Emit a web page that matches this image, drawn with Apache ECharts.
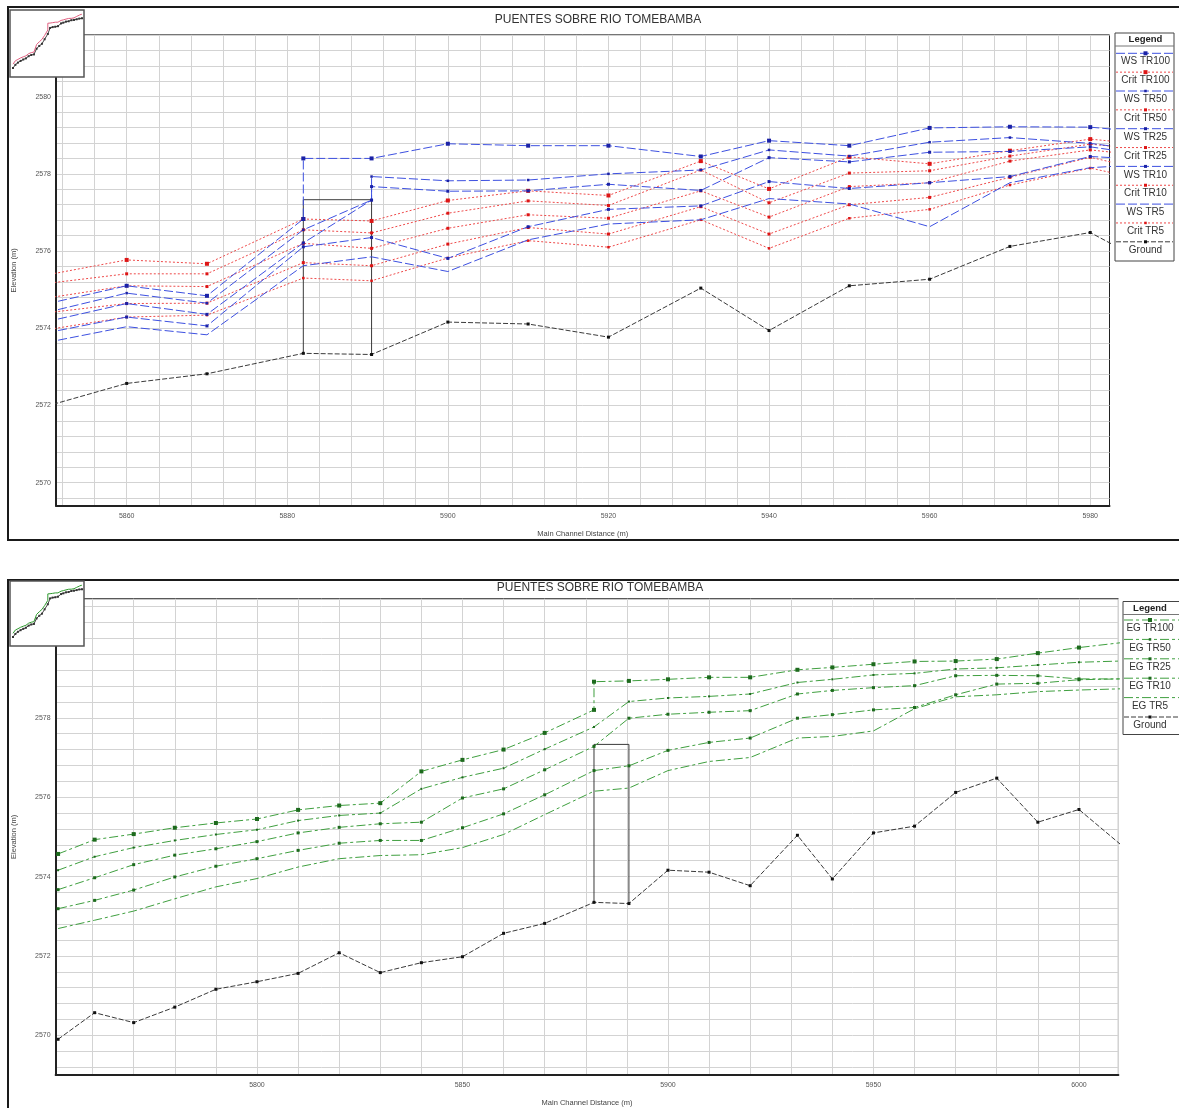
<!DOCTYPE html>
<html>
<head>
<meta charset="utf-8">
<script src="https://cdn.jsdelivr.net/npm/echarts@6/dist/echarts.min.js"></script>
<style>html,body{margin:0;padding:0;background:#fff}#chart{width:1179px;height:1108px}</style>
</head>
<body>
<div id="chart"></div>
<script>
// ---------------- DATA ----------------
const titleText = 'PUENTES SOBRE RIO TOMEBAMBA';
const xAxisName = 'Main Channel Distance (m)';
const yAxisName = 'Elevation (m)';

const topStationLabels = [5860, 5880, 5900, 5920, 5940, 5960, 5980];
const topElevLabels = [2570, 2572, 2574, 2576, 2578, 2580];
const bottomStationLabels = [5800, 5850, 5900, 5950, 6000];
const bottomElevLabels = [2570, 2572, 2574, 2576, 2578];

const ground = [[5751.6,2569.90],[5760.5,2570.57],[5770,2570.32],[5780,2570.71],[5790,2571.16],[5800,2571.35],[5810,2571.56],[5820,2572.08],[5830,2571.58],[5840,2571.83],[5850,2571.98],[5860,2572.57],[5870,2572.82],[5882,2573.35],[5890.5,2573.32],[5900,2574.16],[5910,2574.11],[5920,2573.77],[5931.5,2575.04],[5940,2573.94],[5950,2575.10],[5960,2575.27],[5970,2576.12],[5980,2576.48],[5990,2575.37],[6000,2575.69],[6010,2574.82]];

const bridgeOutline = [[5882,2573.35],[5882,2577.33],[5890.5,2577.33],[5890.5,2573.32]];

const wsTR100 = [[5850,2574.63],[5860,2575.10],[5870,2574.84],[5882,2576.83],[5882,2578.40],[5890.5,2578.40],[5900,2578.78],[5910,2578.73],[5920,2578.73],[5931.5,2578.45],[5940,2578.86],[5950,2578.73],[5960,2579.19],[5970,2579.22],[5980,2579.21],[5990,2579.02]];
const wsTR50 = [[5850,2574.41],[5860,2574.91],[5870,2574.65],[5882,2576.55],[5890.5,2577.32],[5890.5,2577.93],[5900,2577.82],[5910,2577.84],[5920,2578.00],[5931.5,2578.10],[5940,2578.62],[5950,2578.46],[5960,2578.82],[5970,2578.94],[5980,2578.79],[5990,2578.52]];
const wsTR25 = [[5850,2574.17],[5860,2574.64],[5870,2574.36],[5882,2576.21],[5890.5,2577.32],[5890.5,2577.67],[5900,2577.55],[5910,2577.56],[5920,2577.73],[5931.5,2577.57],[5940,2578.42],[5950,2578.31],[5960,2578.56],[5970,2578.58],[5980,2578.70],[5990,2578.40]];
const wsTR10 = [[5850,2573.88],[5860,2574.29],[5870,2574.06],[5882,2576.11],[5890.5,2576.35],[5900,2575.81],[5910,2576.63],[5920,2577.08],[5931.5,2577.17],[5940,2577.80],[5950,2577.62],[5960,2577.77],[5970,2577.93],[5980,2578.45],[5990,2578.34]];
const wsTR5 = [[5850,2573.63],[5860,2574.04],[5870,2573.83],[5882,2575.62],[5890.5,2575.85],[5900,2575.47],[5910,2576.29],[5920,2576.70],[5931.5,2576.81],[5940,2577.36],[5950,2577.22],[5960,2576.63],[5970,2577.77],[5980,2578.16],[5990,2578.28]];

const critTR100 = [[5850,2575.38],[5860,2575.77],[5870,2575.67],[5882,2576.83],[5890.5,2576.78],[5900,2577.31],[5910,2577.56],[5920,2577.44],[5931.5,2578.33],[5940,2577.61],[5950,2578.44],[5960,2578.26],[5970,2578.60],[5980,2578.90],[5990,2578.70]];
const critTR50 = [[5850,2575.16],[5860,2575.41],[5870,2575.41],[5882,2576.55],[5890.5,2576.47],[5900,2576.98],[5910,2577.30],[5920,2577.18],[5931.5,2578.10],[5940,2577.25],[5950,2578.02],[5960,2578.08],[5970,2578.46],[5980,2578.77],[5990,2578.57]];
const critTR25 = [[5850,2574.78],[5860,2575.10],[5870,2575.08],[5882,2576.20],[5890.5,2576.07],[5900,2576.59],[5910,2576.94],[5920,2576.85],[5931.5,2577.56],[5940,2576.88],[5950,2577.67],[5960,2577.77],[5970,2578.33],[5980,2578.62],[5990,2578.40]];
const critTR10 = [[5850,2574.40],[5860,2574.64],[5870,2574.65],[5882,2575.70],[5890.5,2575.62],[5900,2576.18],[5910,2576.61],[5920,2576.44],[5931.5,2577.15],[5940,2576.44],[5950,2577.20],[5960,2577.39],[5970,2577.91],[5980,2578.43],[5990,2577.95]];
const critTR5 = [[5850,2573.96],[5860,2574.29],[5870,2574.34],[5882,2575.30],[5890.5,2575.23],[5900,2575.82],[5910,2576.27],[5920,2576.10],[5931.5,2576.81],[5940,2576.07],[5950,2576.85],[5960,2577.08],[5970,2577.71],[5980,2578.15],[5990,2577.70]];

const egTR100 = [[5751.6,2574.57],[5760.5,2574.93],[5770,2575.07],[5780,2575.23],[5790,2575.35],[5800,2575.45],[5810,2575.68],[5820,2575.79],[5830,2575.85],[5840,2576.65],[5850,2576.94],[5860,2577.20],[5870,2577.62],[5882,2578.20],[5882,2578.91],[5890.5,2578.93],[5900,2578.97],[5910,2579.02],[5920,2579.02],[5931.5,2579.21],[5940,2579.27],[5950,2579.35],[5960,2579.42],[5970,2579.43],[5980,2579.48],[5990,2579.63],[6000,2579.77],[6010,2579.89]];
const egTR50 = [[5751.6,2574.16],[5760.5,2574.50],[5770,2574.73],[5780,2574.91],[5790,2575.06],[5800,2575.18],[5810,2575.41],[5820,2575.54],[5830,2575.60],[5840,2576.21],[5850,2576.50],[5860,2576.73],[5870,2577.21],[5882,2577.77],[5890.5,2578.41],[5900,2578.50],[5910,2578.54],[5920,2578.60],[5931.5,2578.89],[5940,2578.97],[5950,2579.08],[5960,2579.12],[5970,2579.23],[5980,2579.26],[5990,2579.33],[6000,2579.40],[6010,2579.43]];
const egTR25 = [[5751.6,2573.67],[5760.5,2573.97],[5770,2574.30],[5780,2574.54],[5790,2574.70],[5800,2574.88],[5810,2575.10],[5820,2575.24],[5830,2575.33],[5840,2575.37],[5850,2575.98],[5860,2576.21],[5870,2576.69],[5882,2577.28],[5890.5,2577.99],[5900,2578.09],[5910,2578.14],[5920,2578.18],[5931.5,2578.60],[5940,2578.69],[5950,2578.76],[5960,2578.81],[5970,2579.06],[5980,2579.07],[5990,2579.06],[6000,2578.98],[6010,2578.98]];
const egTR10 = [[5751.6,2573.19],[5760.5,2573.40],[5770,2573.66],[5780,2573.99],[5790,2574.26],[5800,2574.45],[5810,2574.66],[5820,2574.84],[5830,2574.91],[5840,2574.91],[5850,2575.23],[5860,2575.58],[5870,2576.06],[5882,2576.67],[5890.5,2576.79],[5900,2577.18],[5910,2577.38],[5920,2577.49],[5931.5,2577.99],[5940,2578.08],[5950,2578.20],[5960,2578.26],[5970,2578.58],[5980,2578.85],[5990,2578.87],[6000,2578.96],[6010,2578.98]];
const egTR5 = [[5751.6,2572.69],[5760.5,2572.90],[5770,2573.13],[5780,2573.44],[5790,2573.74],[5800,2573.95],[5810,2574.24],[5820,2574.45],[5830,2574.53],[5840,2574.55],[5850,2574.73],[5860,2575.06],[5870,2575.56],[5882,2576.15],[5890.5,2576.23],[5900,2576.67],[5910,2576.90],[5920,2577.00],[5931.5,2577.49],[5940,2577.53],[5950,2577.67],[5960,2578.23],[5970,2578.53],[5980,2578.58],[5990,2578.66],[6000,2578.70],[6010,2578.73]];

// ---------------- STYLES ----------------
const FONT = 'Liberation Sans, Arial, sans-serif';
const GRID = '#d3d3d3';
const WS = {color:'#3d50e0', mark:'#1b22a6', dash:[9,3]};
const CRIT = {color:'#ee4a4a', mark:'#dd1515', dash:[2,2]};
const GROUND = {color:'#3a3a3a', mark:'#111111', dash:[5,2]};
const EG = {color:'#3f9f3f', mark:'#1d6a1d', dash:[9,3,3,3]};

const topDefs = [
  {name:'WS TR100', data:wsTR100, st:WS, size:4, z:6},
  {name:'Crit TR100', data:critTR100, st:CRIT, size:4, z:5},
  {name:'WS TR50', data:wsTR50, st:WS, size:2.5, z:6},
  {name:'Crit TR50', data:critTR50, st:CRIT, size:3, z:5},
  {name:'WS TR25', data:wsTR25, st:WS, size:3, z:6},
  {name:'Crit TR25', data:critTR25, st:CRIT, size:3, z:5},
  {name:'WS TR10', data:wsTR10, st:WS, size:3, z:6},
  {name:'Crit TR10', data:critTR10, st:CRIT, size:3, z:5},
  {name:'WS TR5', data:wsTR5, st:WS, size:0, z:6},
  {name:'Crit TR5', data:critTR5, st:CRIT, size:2.5, z:5},
  {name:'Ground', data:ground, st:GROUND, size:3, z:4}
];
const bottomDefs = [
  {name:'EG TR100', data:egTR100, st:EG, size:4, z:6},
  {name:'EG TR50', data:egTR50, st:EG, size:2, z:6},
  {name:'EG TR25', data:egTR25, st:EG, size:3, z:6},
  {name:'EG TR10', data:egTR10, st:EG, size:3, z:6},
  {name:'EG TR5', data:egTR5, st:EG, size:0, z:6},
  {name:'Ground', data:ground, st:GROUND, size:3, z:4}
];

function lineSeries(d, idx) {
  return {
    name: d.name, type: 'line', xAxisIndex: idx, yAxisIndex: idx, data: d.data,
    symbol: d.size ? 'rect' : 'none', symbolSize: d.size || 0, showSymbol: !!d.size,
    lineStyle: {color: d.st.color, width: 1, type: d.st.dash},
    itemStyle: {color: d.st.mark}, z: d.z, clip: true, animation: false,
    emphasis: {disabled: true}, silent: true
  };
}
function bridgeSeries(idx) {
  return {name:'Bridge', type:'line', xAxisIndex:idx, yAxisIndex:idx, data:bridgeOutline,
    symbol:'none', lineStyle:{color:'#3a3a3a', width:1}, z:3, animation:false, silent:true};
}

function fmt(labels) {
  return function (v) {
    const r = Math.round(v * 10) / 10;
    return labels.indexOf(r) >= 0 ? String(r) : '';
  };
}
const axisNameStyle = {fontSize: 7.5, color: '#444', fontFamily: FONT};
function xAxisCfg(gridIndex, min, max, interval, colors, labels) {
  return {
    type:'value', gridIndex, min, max, interval,
    axisLine:{show:true, onZero:false, lineStyle:{color:'#222', width:2}},
    axisTick:{show:false},
    splitLine:{show:true, lineStyle:{color:colors, width:1}},
    axisLabel:{color:'#555', fontSize:7, fontFamily:FONT, margin:7, formatter:fmt(labels)},
    name:xAxisName, nameLocation:'middle', nameGap:24, nameTextStyle:axisNameStyle
  };
}
function yAxisCfg(gridIndex, min, max, interval, colors, labels) {
  return {
    type:'value', gridIndex, min, max, interval,
    axisLine:{show:true, onZero:false, lineStyle:{color:'#222', width:2}},
    axisTick:{show:false},
    splitLine:{show:true, lineStyle:{color:colors, width:1}},
    axisLabel:{color:'#555', fontSize:7, fontFamily:FONT, margin:5, formatter:fmt(labels)},
    name:yAxisName, nameLocation:'middle', nameGap:38, nameRotate:90, nameTextStyle:axisNameStyle
  };
}
const T = 'transparent';
// top x: ticks every 0.8 m from 5851.2 -> grid every 4 m (index 1 mod 5)
const topXColors = [T, GRID, T, T, T];
// bottom x: ticks every 1 m from 5751 -> grid every 10 m (index 9 mod 10)
const bottomXColors = [T, T, T, T, T, T, T, T, T, GRID];
// y: ticks every 0.2 m, grid every 0.4 m
const yColors = [T, GRID];

// ---------------- LEGEND (drawn) ----------------
function legendGraphics(defs, box, firstLineY, step, cx) {
  const g = [];
  g.push({type:'rect', z:50, shape:{x:box.x, y:box.y, width:box.w, height:box.h},
    style:{fill:'#fff', stroke:'#444', lineWidth:1}});
  g.push({type:'text', z:51, x:cx, y:box.y + 6.5, style:{text:'Legend', align:'center', verticalAlign:'middle',
    font:'bold 9.5px ' + FONT, fill:'#222'}});
  g.push({type:'line', z:51, shape:{x1:box.x, y1:box.y + 13, x2:box.x + box.w, y2:box.y + 13},
    style:{stroke:'#777', lineWidth:1}});
  defs.forEach(function (d, i) {
    const ly = firstLineY + step * i;
    g.push({type:'line', z:51, shape:{x1:box.x + 1, y1:ly, x2:box.x + box.w - 1, y2:ly},
      style:{stroke:d.st.color, lineWidth:1, lineDash:d.st.dash}});
    if (d.size) {
      const s = Math.max(d.size, 2.5);
      g.push({type:'rect', z:52, shape:{x:cx - s / 2, y:ly - s / 2, width:s, height:s}, style:{fill:d.st.mark}});
    }
    g.push({type:'text', z:51, x:cx, y:ly + 8.4, style:{text:d.name, align:'center', verticalAlign:'middle',
      font:'10px ' + FONT, fill:'#333'}});
  });
  return g;
}

const graphics = [
  {type:'rect', z:49, shape:{x:8, y:7, width:1200, height:533}, style:{fill:'none', stroke:'#1a1a1a', lineWidth:2}},
  {type:'rect', z:49, shape:{x:8, y:580, width:1200, height:560}, style:{fill:'none', stroke:'#1a1a1a', lineWidth:2}},
  {type:'rect', z:50, shape:{x:10, y:10, width:74, height:67}, style:{fill:'#fff', stroke:'#555', lineWidth:1.5}},
  {type:'rect', z:50, shape:{x:10, y:581, width:74, height:65}, style:{fill:'#fff', stroke:'#555', lineWidth:1.5}}
].concat(
  legendGraphics(topDefs, {x:1115, y:33, w:59, h:228}, 53.3, 18.85, 1145.5),
  legendGraphics(bottomDefs, {x:1123, y:601.5, w:70, h:133}, 620, 19.4, 1150)
);

// ---------------- OPTION ----------------
const series = [];
topDefs.forEach(function (d) { series.push(lineSeries(d, 0)); });
series.push(bridgeSeries(0));
bottomDefs.forEach(function (d) { series.push(lineSeries(d, 1)); });
series.push(bridgeSeries(1));
// overview insets (whole reach profile, small)
series.push({type:'line', xAxisIndex:2, yAxisIndex:2, data:egTR50, symbol:'rect', symbolSize:2, itemStyle:{color:'#333'}, lineStyle:{color:'#444', width:1}, z:60, animation:false, silent:true});
series.push({type:'line', xAxisIndex:2, yAxisIndex:2, data:egTR100, symbol:'none', lineStyle:{color:'#e06080', width:1}, z:61, animation:false, silent:true});
series.push({type:'line', xAxisIndex:3, yAxisIndex:3, data:egTR50, symbol:'rect', symbolSize:2, itemStyle:{color:'#333'}, lineStyle:{color:'#444', width:1}, z:60, animation:false, silent:true});
series.push({type:'line', xAxisIndex:3, yAxisIndex:3, data:egTR100, symbol:'none', lineStyle:{color:'#2f9a2f', width:1}, z:61, animation:false, silent:true});

const insetAxis = {type:'value', show:false, scale:true, min:'dataMin', max:'dataMax'};

const option = {
  backgroundColor: '#ffffff',
  animation: false,
  title: [
    {text:titleText, left:598, top:14, textAlign:'center', padding:0,
      textStyle:{fontSize:12, fontWeight:'normal', color:'#333', fontFamily:FONT}},
    {text:titleText, left:600, top:582, textAlign:'center', padding:0,
      textStyle:{fontSize:12, fontWeight:'normal', color:'#333', fontFamily:FONT}}
  ],
  grid: [
    {left:56, top:34.9, width:1053.5, height:470.9, show:true, borderColor:'#222', borderWidth:1, backgroundColor:'transparent'},
    {left:55.6, top:598.75, width:1062.8, height:477, show:true, borderColor:'#222', borderWidth:1, backgroundColor:'transparent'},
    {left:13, top:14, width:69, height:54},
    {left:13, top:585, width:69, height:52}
  ],
  xAxis: [
    xAxisCfg(0, 5851.2, 5982.4, 0.8, topXColors, topStationLabels),
    xAxisCfg(1, 5751, 6009.6, 1, bottomXColors, bottomStationLabels),
    Object.assign({gridIndex:2}, insetAxis),
    Object.assign({gridIndex:3}, insetAxis)
  ],
  yAxis: [
    yAxisCfg(0, 2569.4, 2581.6, 0.2, yColors, topElevLabels),
    yAxisCfg(1, 2569, 2581, 0.2, yColors, bottomElevLabels),
    Object.assign({gridIndex:2}, insetAxis),
    Object.assign({gridIndex:3}, insetAxis)
  ],
  graphic: graphics,
  series: series
};

const chart = echarts.init(document.getElementById('chart'), null, {renderer:'canvas'});
chart.setOption(option);
</script>
</body>
</html>
